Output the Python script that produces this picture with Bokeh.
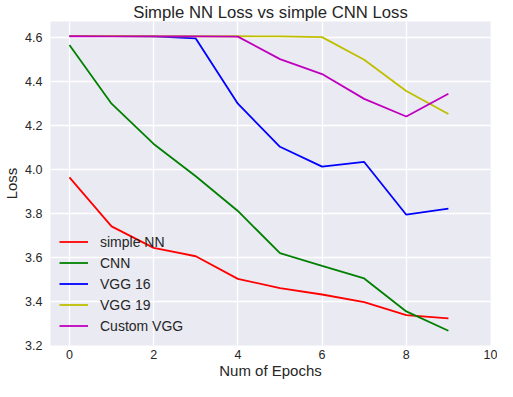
from bokeh.plotting import figure
from bokeh.models import Range1d, FixedTicker, Legend, LegendItem
from bokeh.embed import file_html
from bokeh.resources import INLINE

epochs = list(range(10))
simple_nn = [3.965, 3.742, 3.644, 3.606, 3.503, 3.461, 3.432, 3.397, 3.338, 3.323]
cnn = [4.567, 4.300, 4.117, 3.970, 3.812, 3.620, 3.562, 3.505, 3.355, 3.267]
vgg16 = [4.608, 4.608, 4.606, 4.597, 4.300, 4.104, 4.014, 4.035, 3.795, 3.823]
vgg19 = [4.608, 4.608, 4.607, 4.607, 4.607, 4.606, 4.603, 4.500, 4.358, 4.253]
custom_vgg = [4.607, 4.606, 4.606, 4.606, 4.605, 4.503, 4.435, 4.322, 4.242, 4.345]
series_names = ["simple NN", "CNN", "VGG 16", "VGG 19", "Custom VGG"]
x_ticks = [0, 2, 4, 6, 8, 10]
y_ticks = [3.2, 3.4, 3.6, 3.8, 4.0, 4.2, 4.4, 4.6]

FONT = "Liberation Sans"
TXT = "#262626"

p = figure(width=497, height=381, output_backend="svg", toolbar_location=None,
           x_range=Range1d(-0.45, 10.0), y_range=Range1d(3.2, 4.674),
           title="Simple NN Loss vs simple CNN Loss")
p.min_border_left = 44
p.min_border_right = 7
p.min_border_top = 17
p.min_border_bottom = 36

p.background_fill_color = "#EAEAF2"
p.border_fill_color = "white"
p.outline_line_color = None

p.title.text_font = FONT
p.title.text_font_size = "16.7px"
p.title.text_font_style = "normal"
p.title.text_color = TXT
p.title.align = "center"
p.title.offset = 0
p.title.standoff = 0

for ax in (p.xaxis[0], p.yaxis[0]):
    ax.axis_line_color = None
    ax.major_tick_line_color = None
    ax.minor_tick_line_color = None
    ax.major_tick_out = 0
    ax.major_tick_in = 0
    ax.minor_tick_out = 0
    ax.minor_tick_in = 0
    ax.major_label_text_font = FONT
    ax.major_label_text_font_size = "12.5px"
    ax.major_label_text_color = TXT
    ax.axis_label_text_font = FONT
    ax.axis_label_text_font_size = "15px"
    ax.axis_label_text_font_style = "normal"
    ax.axis_label_text_color = TXT

p.xaxis.ticker = FixedTicker(ticks=x_ticks)
p.yaxis.ticker = FixedTicker(ticks=y_ticks)
p.yaxis.major_label_overrides = {t: f"{t:.1f}" for t in y_ticks}
p.xaxis.axis_label = "Num of Epochs"
p.yaxis.axis_label = "Loss"
p.xaxis.major_label_standoff = 4
p.yaxis.major_label_standoff = 8
p.xaxis.axis_label_standoff = 0
p.yaxis.axis_label_standoff = 2

p.xgrid.grid_line_color = "white"
p.ygrid.grid_line_color = "white"
p.xgrid.grid_line_width = 1.3
p.ygrid.grid_line_width = 1.3

colors = ["#FF0000", "#008000", "#0000FF", "#BFBF00", "#BF00BF"]
data = [simple_nn, cnn, vgg16, vgg19, custom_vgg]
items = []
for name, ys, c in zip(series_names, data, colors):
    r = p.line(epochs, ys, line_color=c, line_width=1.8)
    items.append(LegendItem(label=name, renderers=[r]))

legend = Legend(items=items, location="bottom_left")
legend.background_fill_alpha = 0
legend.border_line_color = None
legend.label_text_font = FONT
legend.label_text_font_size = "14px"
legend.label_text_color = TXT
legend.glyph_width = 29
legend.glyph_height = 21
legend.label_height = 21
legend.spacing = 0
legend.label_standoff = 12
legend.padding = 6
legend.margin = 9
p.add_layout(legend, "center")

open("out.html", "w").write(file_html(p, INLINE))
